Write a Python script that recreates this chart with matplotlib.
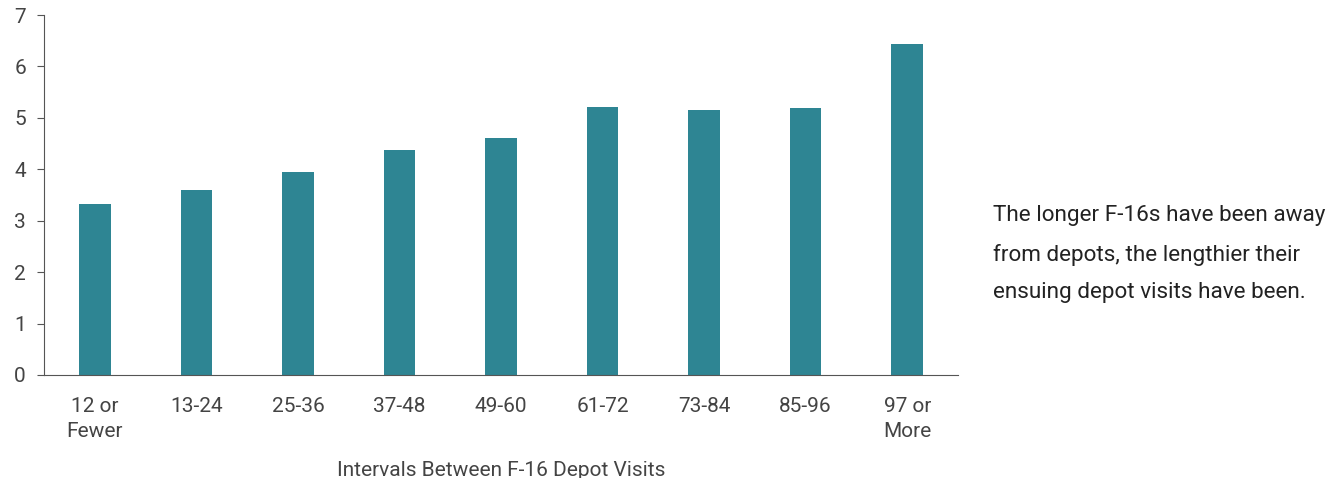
import matplotlib
matplotlib.use("Agg")
import matplotlib.pyplot as plt
import numpy as np

plt.rcParams['font.family'] = ['Roboto', 'DejaVu Sans']

categories = ["12 or\nFewer", "13-24", "25-36", "37-48", "49-60", "61-72", "73-84", "85-96", "97 or\nMore"]
values = [3.33, 3.6, 3.95, 4.38, 4.6, 5.22, 5.16, 5.2, 6.43]

teal = "#2E8593"
grey = "#555555"

fig = plt.figure(figsize=(13.38, 4.78), dpi=100)
ax = fig.add_axes([44/1338, 1 - 375/478, 914/1338, 360/478])

x = np.arange(len(categories))
ax.bar(x, values, width=0.31, color=teal)

ax.set_xlim(-0.5, len(categories) - 0.5)
ax.set_ylim(0, 7)
ax.set_yticks(range(0, 8))
ax.set_xticks(x)
ax.set_xticklabels(categories, linespacing=1.4)

for s in ["top", "right"]:
    ax.spines[s].set_visible(False)
ax.spines["left"].set_color(grey)
ax.spines["bottom"].set_color(grey)
ax.tick_params(axis="y", colors=grey, labelsize=15, length=5, pad=8, labelcolor="#444444")
ax.tick_params(axis="x", length=0, labelsize=15, pad=16, labelcolor="#444444")

ax.set_xlabel("Intervals Between F-16 Depot Visits", fontsize=15, color="#444444", labelpad=14)

fig.text(993/1338, 1 - 254/478, "The longer F-16s have been away\nfrom depots, the lengthier their\nensuing depot visits have been.",
         fontsize=16.2, color="#222222", va="center", ha="left", linespacing=2.05)

fig.savefig("out.png", dpi=100)
